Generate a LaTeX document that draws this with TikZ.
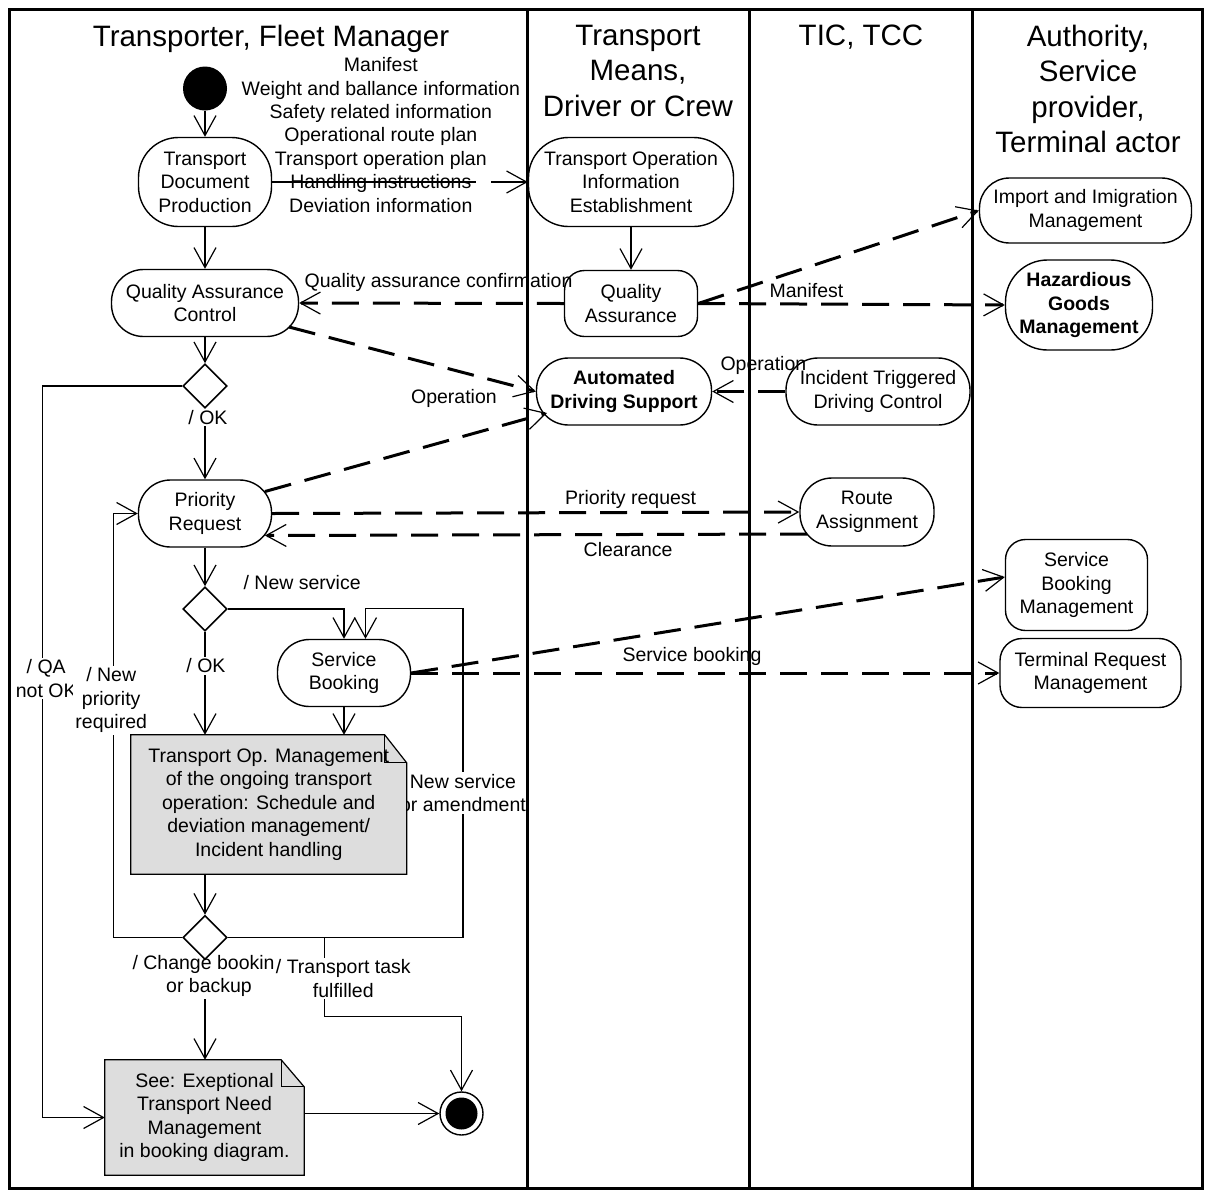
\documentclass[tikz,border=0pt]{standalone}
\usepackage{fontspec}
\setmainfont{Liberation Sans}
\usetikzlibrary{arrows.meta,shapes.geometric,calc}
\pgfdeclarelayer{bg}
\pgfdeclarelayer{fg}
\pgfsetlayers{bg,main,fg}
\definecolor{notegray}{RGB}{221,221,221}
\newcommand{\flowfont}{\fontsize{19.5}{23.4}\selectfont}
\newcommand{\lanefont}{\fontsize{29.5}{35.3}\selectfont}
\begin{document}
\begin{tikzpicture}[x=1pt,y=-1pt,
  every node/.style={font=\flowfont},
  act/.style={draw, line width=1.4pt, fill=white, rounded corners=#1, inner sep=0pt, align=center},
  act/.default=32pt,
  dec/.style={draw, diamond, line width=1.6pt, fill=white, inner sep=0pt, minimum width=44pt, minimum height=44pt},
  flowtip/.style={-{Straight Barb[length=20pt,width=22pt,line width=1.2pt]}},
  ctl/.style={flowtip, line width=1.2pt},
  obj/.style={flowtip, line width=3pt, dash pattern=on 27pt off 14pt},
  guard/.style={fill=white, inner sep=2pt, align=center},
  lbl/.style={inner sep=0pt, align=center},
  lane/.style={line width=3pt},
  lanetitle/.style={font=\lanefont, align=center, anchor=north, inner sep=0pt},
  notebox/.style={inner sep=0pt, align=center},
  notefold/.style={fill=notegray, draw, line width=1.2pt, line join=miter},
]
\useasboundingbox (0,0) rectangle (1205,1192);
\begin{pgfonlayer}{bg}
\fill[white] (0,0) rectangle (1205,1192);
\end{pgfonlayer}

% swimlane titles
\node[lanetitle] (ttrans) at (271,25) {Transporter, Fleet Manager};
\node[lanetitle] (tmeans) at (638,25) {Transport\\Means,\\Driver or Crew};
\node[lanetitle] (ttic) at (861,25) {TIC, TCC};
\node[lanetitle] (tauth) at (1088,25) {Authority,\\Service\\provider,\\Terminal actor};

% activities, decisions and states
\node[circle, fill=black, minimum size=44pt, inner sep=0pt] (init) at (205,88.5) {};
\node[act=40pt, minimum width=133pt, minimum height=89pt] (tdp) at (205,182) {Transport\\Document\\Production};
\node[act=40pt, minimum width=205pt, minimum height=89pt] (toie) at (631,182) {Transport Operation\\Information\\Establishment};
\node[act=30pt, minimum width=212pt, minimum height=65pt] (imm) at (1085.5,210.5) {Import and Imigration\\Management};
\node[act=32pt, minimum width=187pt, minimum height=67pt] (qac) at (205,303) {Quality Assurance\\Control};
\node[act=20pt, minimum width=133pt, minimum height=66pt] (qa) at (631,303.5) {Quality\\Assurance};
\node[act=42pt, minimum width=147pt, minimum height=90pt, font=\flowfont\bfseries] (hgm) at (1079,305) {Hazardious\\Goods\\Management};
\node[act=32pt, minimum width=175pt, minimum height=67pt, font=\flowfont\bfseries] (ads) at (624,391.5) {Automated\\Driving Support};
\node[act=32pt, minimum width=184pt, minimum height=67pt] (itdc) at (878,391.5) {Incident Triggered\\Driving Control};
\node[dec] (d1) at (205,386) {};
\node[act=32pt, minimum width=133pt, minimum height=67pt] (pr) at (205,513.5) {Priority\\Request};
\node[act=32pt, minimum width=134pt, minimum height=68pt] (ra) at (867,512) {Route\\Assignment};
\node[dec] (d2) at (205,609) {};
\node[act=32pt, minimum width=133pt, minimum height=67pt] (sb) at (344,673) {Service\\Booking};
\node[act=20pt, minimum width=142pt, minimum height=91pt] (sbm) at (1076.5,585) {Service\\Booking\\Management};
\node[act=22pt, minimum width=181pt, minimum height=69pt] (trm) at (1090.5,673) {Terminal Request\\Management};
\node[notebox, minimum width=275.5pt, minimum height=139pt] (n1) at (268.75,804.5) {Transport Op. Management\\of the ongoing transport\\operation: Schedule and\\deviation management/\\Incident handling};
\node[dec] (d3) at (205,937.5) {};
\node[notebox, minimum width=199pt, minimum height=115pt] (n2) at (204.5,1117.5) {See: Exeptional\\Transport Need\\Management\\in booking diagram.};
\node[circle, draw, line width=1.4pt, fill=white, minimum size=43pt, inner sep=0pt,
  path picture={\fill[black] (path picture bounding box.center) circle[radius=16pt];}] (final) at (461.5,1113.5) {};

\begin{pgfonlayer}{bg}
% control flow
\draw[ctl] (init) -- (tdp);
\draw[ctl] (tdp) -- (qac);
\draw[ctl] (toie) -- (qa);
\draw[ctl] (qac) -- (d1);
\draw[ctl] (d1) -- node[guard, pos=0.12, xshift=3pt]{/ OK} (pr);
\draw[ctl] (d1.west) -- ++(-140,0) |- node[guard, pos=0.2, xshift=4pt]{/ QA\\not OK} (n2.west);
\draw[ctl] (pr) -- (d2);
\draw[ctl] (d2) -- node[guard, pos=0.33, xshift=1pt]{/ OK} (d2 |- n1.north);
\draw[ctl] (d2.east) -| node[lbl, pos=0.32, yshift=26pt]{/ New service} (sb.north);
\draw[ctl] (sb) -- (sb |- n1.north);
\draw[ctl] (n1.south -| d3) -- (d3);
\draw[ctl] (d3.east) -| node[guard, pos=0.72]{New service\\or amendment} ($(sb.north)+(119,-30)$) -| ($(sb.north)+(21.5,0)$);
\draw[ctl] (d3.west) -- ++(-69,0) |- node[guard, pos=0.28, xshift=-2pt]{/ New\\priority\\required} (pr.west);
\draw[ctl] (d3) -- node[guard, pos=0.16, xshift=4pt]{/ Change booking\\or backup} (d3 |- n2.north);
\coordinate (fork) at ($(d3.east)+(96.5,0)$);
\draw[ctl] (fork) -- node[guard, pos=0.52, xshift=19pt]{/ Transport task\\fulfilled} ++(0,79) -| (final.north);
\draw[ctl] (n2.east |- final) -- (final);

% notes with folded corner
\path[notefold] (n1.north west) -- ($(n1.north east)+(-22,0)$) -- ($(n1.north east)+(0,28)$) -- (n1.south east) -- (n1.south west) -- cycle;
\draw[line width=1.2pt] ($(n1.north east)+(-22,0)$) |- ($(n1.north east)+(0,28)$);
\path[notefold] (n2.north west) -- ($(n2.north east)+(-23,0)$) -- ($(n2.north east)+(0,27)$) -- (n2.south east) -- (n2.south west) -- cycle;
\draw[line width=1.2pt] ($(n2.north east)+(-23,0)$) |- ($(n2.north east)+(0,27)$);
\end{pgfonlayer}

% object flow
\draw[obj, line width=1.8pt, dash pattern=on 204pt off 15pt on 60pt] (tdp.east) -- node[lbl, pos=0.425, yshift=47pt]{Manifest\\Weight and ballance information\\Safety related information\\Operational route plan\\Transport operation plan\\Handling instructions\\Deviation information} (toie.west);
\draw[obj] (qa.west) -- node[lbl, pos=1, anchor=west, xshift=4pt, yshift=21pt]{Quality assurance confirmation} (qac.east);
\draw[obj] (qa.east) -- (imm.west);
\draw[obj] (qa.east) -- node[lbl, pos=0.353, yshift=14pt]{Manifest} (hgm.west);
\draw[obj] ($(qac)+(84,24)$) -- (ads.west);
\draw[obj] ($(pr)+(60,-22)$) -- node[lbl, pos=0.67, yshift=40pt]{Operation} ($(ads)+(-77,21.5)$);
\draw[obj] (itdc.west) -- node[lbl, pos=0.3, yshift=26pt]{Operation} (ads.east);
\draw[obj] (pr.east) -- node[lbl, pos=0.68, yshift=13pt]{Priority request} (ra.west);
\draw[obj] ($(ra)+(-60,22)$) -- node[lbl, pos=0.33, yshift=-15pt]{Clearance} ($(pr)+(60,22)$);
\draw[obj] (sb.east) -- ($(sbm.west)+(0,-8)$);
\draw[obj] (sb.east) -- node[lbl, pos=0.4775, yshift=17pt]{Service booking} (trm.west);

% swimlane frame
\begin{pgfonlayer}{fg}
\draw[lane] (9.5,9.5) rectangle (1202.5,1188.5);
\draw[lane] (527,9.5) -- (527,1188.5);
\draw[lane] (749,9.5) -- (749,1188.5);
\draw[lane] (972,9.5) -- (972,1188.5);
\end{pgfonlayer}
\end{tikzpicture}
\end{document}
